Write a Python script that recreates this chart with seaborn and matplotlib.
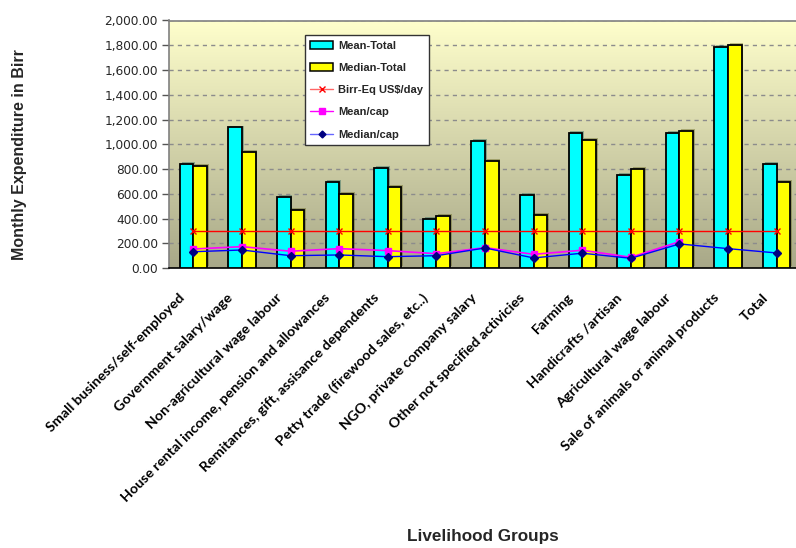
import numpy as np
import pandas as pd
import matplotlib
matplotlib.use("Agg")
import matplotlib.pyplot as plt
import matplotlib.patheffects as pe
import matplotlib.transforms as mtransforms
from matplotlib.colors import LinearSegmentedColormap
from matplotlib.ticker import FuncFormatter, MultipleLocator
from matplotlib.lines import Line2D
from matplotlib.patches import Patch
import seaborn as sns

groups = [
    "Small business/self-employed",
    "Government salary/wage",
    "Non-agricultural wage labour",
    "House rental income, pension and allowances",
    "Remitances, gift, assisance dependents",
    "Petty trade (firewood sales, etc..)",
    "NGO, private company salary",
    "Other not specified activicies",
    "Farming",
    "Handicrafts /artisan",
    "Agricultural wage labour",
    "Sale of animals or animal products",
    "Total",
]
mean_total = [843, 1137, 574, 700, 808, 400, 1029, 590, 1091, 756, 1091, 1787, 843]
median_total = [829, 938, 473, 598, 655, 422, 865, 428, 1035, 800, 1108, 1800, 697]
birr_eq_usd_day = [300] * 13
mean_cap = [155, 174, 137, 158, 142, 117, 166, 112, 145, 88, 214, np.nan, np.nan]
median_cap = [133, 147, 101, 107, 93, 101, 163, 83, 121, 80, 196, 158, 123]

sns.set_theme(style="white")
plt.rcParams["font.family"] = ["Liberation Sans", "DejaVu Sans"]

fig = plt.figure(figsize=(7.96, 5.48), dpi=100)
ax = fig.add_axes([169 / 796, 1 - 268.2 / 548, 632 / 796, 247.7 / 548])

# gradient plot-area fill
grad = LinearSegmentedColormap.from_list("bg", ["#A8A888", "#FFFFCC"])
ax.imshow(np.linspace(0, 1, 256).reshape(-1, 1), cmap=grad, aspect="auto",
          extent=(0, 1, 0, 1), transform=ax.transAxes, origin="lower", zorder=0)

bars = pd.DataFrame({
    "group": groups * 2,
    "stat": ["Mean-Total"] * 13 + ["Median-Total"] * 13,
    "value": mean_total + median_total,
})
sns.barplot(data=bars, x="group", y="value", hue="stat", order=groups,
            palette=["#00FFFF", "#FFFF00"], width=0.56, edgecolor="black",
            linewidth=1.3, saturation=1, ax=ax, legend=False, zorder=3)
for p in ax.patches:
    p.set_path_effects([pe.SimplePatchShadow(offset=(1.3, 1.3), alpha=0.35), pe.Normal()])

x = np.arange(len(groups))
ax.plot(x, birr_eq_usd_day, color="#FF0000", lw=1.0, marker="x", ms=4.5, mew=1.0, zorder=4)
ax.plot(x, mean_cap, color="#FF00FF", lw=1.2, marker="s", ms=5, zorder=5)
ax.plot(x, median_cap, color="#0000FF", lw=1.0, marker="D", ms=4, mfc="#000080",
        mec="#000080", zorder=6)

ax.set_xlim(-0.5, len(groups) - 0.5)
ax.set_ylim(0, 2000)
ax.yaxis.set_major_locator(MultipleLocator(200))
ax.yaxis.set_major_formatter(FuncFormatter(lambda v, _: f"{v:,.2f}"))
ax.grid(axis="y", color="#8C8C8C", linestyle=(0, (3, 3)), linewidth=1.0, zorder=1)
ax.set_axisbelow(True)

# category names, rotated and set slightly below-left of each group centre
ax.set_xticks(x)
ax.set_xticklabels([])
ax.tick_params(axis="x", which="major", length=0)
shift = mtransforms.ScaledTranslation(-0.15, -0.23, fig.dpi_scale_trans)
for xi, name in zip(x, groups):
    ax.text(xi, 0, name, transform=ax.get_xaxis_transform() + shift,
            rotation=45, ha="right", va="top", rotation_mode="anchor",
            fontfamily="Lato", fontweight="bold", fontsize=10.3, color="black",
            clip_on=False)

ax.set_xticks(np.arange(len(groups) + 1) - 0.5, minor=True)
ax.tick_params(axis="x", which="minor", length=5, width=1, color="#555555", direction="out")
ax.tick_params(axis="y", length=5, width=1, color="#555555", direction="out",
               labelsize=8.7, pad=3, left=True)
for lbl in ax.get_yticklabels():
    lbl.set_fontfamily("DejaVu Sans")

for side in ["left", "top", "right"]:
    ax.spines[side].set_color("#808080")
    ax.spines[side].set_linewidth(1.2)
ax.spines["bottom"].set_color("black")
ax.spines["bottom"].set_linewidth(1.2)
ax.set_xlabel("")
ax.set_ylabel("")

fig.text(20 / 796, 1 - 155 / 548, "Monthly Expenditure in Birr", rotation=90,
         ha="center", va="center", fontsize=11.5, fontweight="bold")
fig.text(483 / 796, 1 - 537 / 548, "Livelihood Groups", ha="center", va="center",
         fontsize=12.3, fontweight="bold")

handles = [
    Patch(facecolor="#00FFFF", edgecolor="black", linewidth=1.1),
    Patch(facecolor="#FFFF00", edgecolor="black", linewidth=1.1),
    Line2D([], [], color="#FF6666", marker="x", ms=4, lw=1.0, mec="#FF0000"),
    Line2D([], [], color="#FF00FF", marker="s", ms=5, lw=1.0),
    Line2D([], [], color="#6666FF", marker="D", ms=3.5, lw=1.0, mfc="#000080", mec="#000080"),
]
leg = ax.legend(handles, ["Mean-Total", "Median-Total", "Birr-Eq US$/day", "Mean/cap", "Median/cap"],
                loc="upper left", bbox_to_anchor=(0.215, 0.941), borderaxespad=0,
                frameon=True, fancybox=False, framealpha=1, edgecolor="#333333",
                prop={"weight": "bold", "size": 8}, labelspacing=1.1,
                handlelength=2.0, handletextpad=0.5, borderpad=0.5)
leg.get_frame().set_linewidth(1.0)
leg.set_zorder(10)

fig.savefig("out.png", dpi=100)
